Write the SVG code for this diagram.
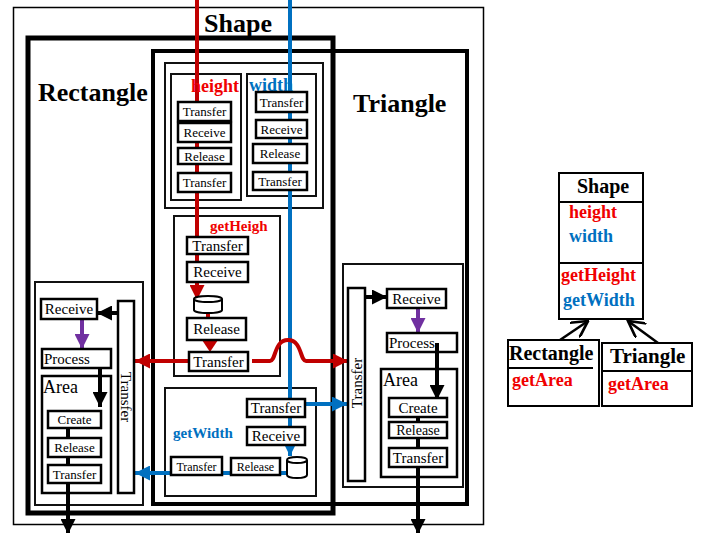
<svg xmlns="http://www.w3.org/2000/svg" width="701" height="533" viewBox="0 0 701 533">
<style>
.frame{fill:none;stroke:#111;stroke-width:2}
.box{fill:#fff;stroke:#000;stroke-width:2.5}
.t{font-family:"Liberation Serif","Times New Roman",serif;fill:#000}
.b{font-weight:bold}
.c{text-anchor:middle}
.red{fill:#f00000}
.blue{fill:#0070c0}
.lr{fill:none;stroke:#c00000;stroke-width:4}
.lb{fill:none;stroke:#0070c0;stroke-width:4}
.lk{fill:none;stroke:#000;stroke-width:4}
.lp{fill:none;stroke:#7030a0;stroke-width:4}
</style>
<defs>
<marker id="mr" viewBox="0 0 10 10" refX="10" refY="5" markerWidth="15" markerHeight="15" markerUnits="userSpaceOnUse" orient="auto"><path d="M0,0L10,5L0,10z" fill="#c00000"/></marker>
<marker id="mb" viewBox="0 0 10 10" refX="10" refY="5" markerWidth="15" markerHeight="15" markerUnits="userSpaceOnUse" orient="auto"><path d="M0,0L10,5L0,10z" fill="#0070c0"/></marker>
<marker id="mk" viewBox="0 0 10 10" refX="10" refY="5" markerWidth="15" markerHeight="15" markerUnits="userSpaceOnUse" orient="auto"><path d="M0,0L10,5L0,10z" fill="#000"/></marker>
<marker id="mp" viewBox="0 0 10 10" refX="10" refY="5" markerWidth="15" markerHeight="15" markerUnits="userSpaceOnUse" orient="auto"><path d="M0,0L10,5L0,10z" fill="#7030a0"/></marker>
<marker id="mo" viewBox="0 0 12 12" refX="11" refY="6" markerWidth="18" markerHeight="18" markerUnits="userSpaceOnUse" orient="auto"><path d="M0,0L11,6L0,12" fill="none" stroke="#000" stroke-width="1.8"/></marker>
</defs>

<g id="shape-frame">
<rect x="13.5" y="7.5" width="470" height="517" fill="none" stroke="#000" stroke-width="1.5"/>
<text class="t b c" x="238" y="32" font-size="26">Shape</text>
</g>
<g id="rectangle-frame">
<rect x="28" y="38" width="305" height="475" fill="none" stroke="#000" stroke-width="5"/>
<text class="t b" x="38" y="101" font-size="26">Rectangle</text>
</g>
<g id="triangle-frame">
<rect x="153" y="51" width="314" height="453" fill="none" stroke="#000" stroke-width="4"/>
<text class="t b" x="353" y="112" font-size="26">Triangle</text>
</g>

<g id="fields-frame">
<rect class="frame" x="165" y="63" width="158" height="145"/>
<rect class="frame" x="171" y="74" width="70" height="126"/>
<rect class="frame" x="247" y="74" width="69" height="122"/>
</g>
<g id="getHeight-frame">
<rect class="frame" x="174" y="216" width="106" height="160"/>
</g>
<g id="getWidth-frame">
<rect class="frame" x="165" y="388" width="151" height="108"/>
</g>
<g id="rect-area-frame">
<rect class="frame" x="35" y="282" width="108" height="223"/>
</g>
<g id="tri-area-frame">
<rect class="frame" x="343" y="264" width="120" height="223"/>
</g>

<g id="connectors">
<path class="lr" d="M197,0V300" marker-end="url(#mr)"/>
<path class="lb" d="M290,0V456" marker-end="url(#mb)"/>
<path class="lr" d="M208,312V318" stroke-width="3"/>
<path d="M202,340L218,340L210,352z" fill="#c00000"/>
<path class="lr" d="M189,361H135" marker-end="url(#mr)"/>
<path class="lr" d="M252,361H270C276,361 274,340 288,340C302,340 300,361 306,361H348" marker-end="url(#mr)"/>
<path class="lb" d="M287,473H135" marker-end="url(#mb)"/>
<path class="lb" d="M305,404H347" marker-end="url(#mb)"/>
<path class="lk" d="M118,313H97" marker-end="url(#mk)"/>
<path class="lp" d="M82,319V349" marker-end="url(#mp)"/>
<path class="lk" d="M100,359V407" marker-end="url(#mk)"/>
<path class="lk" d="M68,420V534" marker-end="url(#mk)"/>
<path class="lk" d="M365,297H387" marker-end="url(#mk)"/>
<path class="lp" d="M418,308V333" marker-end="url(#mp)"/>
<path class="lk" d="M437,343V400" marker-end="url(#mk)"/>
<path class="lk" d="M418,410V534" marker-end="url(#mk)"/>
<path d="M560,340L588,321" fill="none" stroke="#000" stroke-width="2.5" marker-end="url(#mo)"/>
<path d="M658,343L628,321" fill="none" stroke="#000" stroke-width="2.5" marker-end="url(#mo)"/>
</g>

<g id="height-attr">
<text class="t b red" x="191" y="92" font-size="18">height</text>
<rect class="box" x="178" y="102" width="53" height="19"/><text class="t c" x="204.5" y="116" font-size="13">Transfer</text>
<rect class="box" x="178" y="123" width="53" height="19"/><text class="t c" x="204.5" y="137" font-size="13">Receive</text>
<rect class="box" x="178" y="148" width="53" height="16"/><text class="t c" x="204.5" y="161" font-size="13">Release</text>
<rect class="box" x="178" y="173" width="53" height="19"/><text class="t c" x="204.5" y="187" font-size="13">Transfer</text>
</g>
<g id="width-attr">
<text class="t b blue" x="249" y="91" font-size="18">width</text>
<rect class="box" x="256" y="92" width="51" height="20"/><text class="t c" x="281.5" y="107" font-size="13">Transfer</text>
<rect class="box" x="256" y="120" width="51" height="18"/><text class="t c" x="281.5" y="134" font-size="13">Receive</text>
<rect class="box" x="253" y="144" width="54" height="19"/><text class="t c" x="280" y="158" font-size="13">Release</text>
<rect class="box" x="253" y="172" width="54" height="18"/><text class="t c" x="280" y="186" font-size="13">Transfer</text>
</g>
<g id="getHeight">
<text class="t b red" x="210" y="231" font-size="15">getHeigh</text>
<rect class="box" x="187" y="237" width="61" height="17"/><text class="t c" x="217.5" y="251" font-size="15">Transfer</text>
<rect class="box" x="187" y="262" width="61" height="20"/><text class="t c" x="217.5" y="277" font-size="15">Receive</text>
<path d="M194,299V310A14,3 0 0 0 222,310V299A14,3 0 0 0 194,299A14,3 0 0 0 222,299" fill="#fff" stroke="#000" stroke-width="2"/>
<rect class="box" x="187" y="318" width="59" height="22"/><text class="t c" x="216.5" y="334" font-size="15">Release</text>
<rect class="box" x="189" y="352" width="59" height="19"/><text class="t c" x="218.5" y="367" font-size="15">Transfer</text>
</g>
<g id="getWidth">
<text class="t b blue" x="173" y="438" font-size="15">getWidth</text>
<rect class="box" x="247" y="399" width="58" height="18"/><text class="t c" x="276" y="413" font-size="15">Transfer</text>
<rect class="box" x="247" y="427" width="58" height="18"/><text class="t c" x="276" y="441" font-size="15">Receive</text>
<path d="M287,460V475A10,3 0 0 0 307,475V460A10,3 0 0 0 287,460A10,3 0 0 0 307,460" fill="#fff" stroke="#000" stroke-width="2"/>
<rect class="box" x="231" y="458" width="49" height="17"/><text class="t c" x="255.5" y="471" font-size="12">Release</text>
<rect class="box" x="171" y="457" width="51" height="18"/><text class="t c" x="196.5" y="471" font-size="12">Transfer</text>
</g>
<g id="rect-getArea">
<rect class="box" x="118" y="301" width="16" height="192" stroke-width="2"/>
<text class="t c" font-size="15" transform="translate(121,397) rotate(90)">Transfer</text>
<rect class="box" x="41" y="299" width="56" height="20"/><text class="t c" x="69" y="314" font-size="15">Receive</text>
<rect class="box" x="42" y="349" width="69" height="19"/><text class="t" x="44" y="364" font-size="15">Process</text>
<rect x="42" y="376" width="69" height="117" fill="none" stroke="#000" stroke-width="2.5"/>
<text class="t" x="43" y="393" font-size="18">Area</text>
<rect class="box" x="48" y="411" width="53" height="17"/><text class="t c" x="74.5" y="424" font-size="13">Create</text>
<rect class="box" x="48" y="438" width="53" height="19"/><text class="t c" x="74.5" y="452" font-size="13">Release</text>
<rect class="box" x="48" y="465" width="53" height="18"/><text class="t c" x="74.5" y="479" font-size="13">Transfer</text>
<path class="lk" d="M68,428V438M68,457V465" stroke-width="3"/>
</g>
<g id="tri-getArea">
<rect class="box" x="348" y="288" width="17" height="193" stroke-width="2"/>
<text class="t c" font-size="15" transform="translate(362,383) rotate(-90)">Transfer</text>
<rect class="box" x="387" y="289" width="59" height="19"/><text class="t c" x="416.5" y="304" font-size="15">Receive</text>
<rect class="box" x="387" y="333" width="70" height="19"/><text class="t" x="389" y="348" font-size="15">Process</text>
<path class="lk" d="M437,343V352"/>
<rect x="381" y="369" width="76" height="108" fill="none" stroke="#000" stroke-width="2.5"/>
<text class="t" x="383" y="386" font-size="18">Area</text>
<rect class="box" x="389" y="398" width="58" height="19"/><text class="t c" x="418" y="413" font-size="15">Create</text>
<rect class="box" x="389" y="422" width="58" height="16"/><text class="t c" x="418" y="435" font-size="14">Release</text>
<rect class="box" x="389" y="448" width="58" height="19"/><text class="t c" x="418" y="463" font-size="15">Transfer</text>
<path class="lk" d="M418,417V422M418,438V448" stroke-width="3"/>
</g>

<g id="uml-shape">
<rect x="559" y="173" width="84" height="146" fill="#fff" stroke="#000" stroke-width="2"/>
<path d="M559,202H643M559,263H643" stroke="#000" stroke-width="2"/>
<text class="t b" x="577" y="193" font-size="20">Shape</text>
<text class="t b red" x="569" y="218" font-size="18">height</text>
<text class="t b blue" x="569" y="242" font-size="18">width</text>
<text class="t b red" x="561" y="281" font-size="18">getHeight</text>
<text class="t b blue" x="563" y="306" font-size="18">getWidth</text>
</g>
<g id="uml-rectangle">
<rect x="508" y="340" width="91" height="66" fill="#fff" stroke="#000" stroke-width="2"/>
<path d="M508,368H593" stroke="#000" stroke-width="2"/>
<text class="t b" x="509" y="360" font-size="20">Rectangle</text>
<text class="t b red" x="512" y="386" font-size="18">getArea</text>
</g>
<g id="uml-triangle">
<rect x="602" y="343" width="90" height="63" fill="#fff" stroke="#000" stroke-width="2"/>
<path d="M602,371H692" stroke="#000" stroke-width="2"/>
<text class="t b" x="610" y="363" font-size="21">Triangle</text>
<text class="t b red" x="608" y="390" font-size="18">getArea</text>
</g>
</svg>
